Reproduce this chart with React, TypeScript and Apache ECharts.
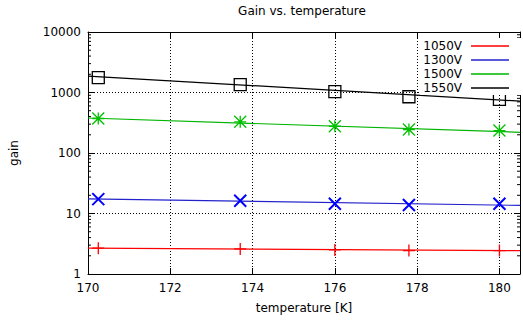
import React, { useEffect, useRef } from "react";
import * as echarts from "echarts";

// Measured points (temperature [K] -> gain)
const temperatures = [170.25, 173.7, 176.0, 177.8, 180.0];
const gain1050 = [2.67, 2.6, 2.5, 2.44, 2.44];
const gain1300 = [17.3, 16.2, 14.5, 13.8, 14.5];
const gain1500 = [372, 328, 277, 244, 235];
const gain1550 = [1760, 1347, 1031, 851, 769];

// Fit lines (endpoints across the plotted range)
const fitTemps = [170, 180.5];
const fit1050 = [2.67, 2.43];
const fit1300 = [17.5, 13.6];
const fit1500 = [379, 220];
const fit1550 = [1871, 720];

const seriesNames = ["1050V", "1300V", "1500V", "1550V"];
const xTicks = [170, 172, 174, 176, 178, 180];
const yTicks = [1, 10, 100, 1000, 10000];

const minorTickValues: number[] = [];
for (const d of [1, 10, 100, 1000]) {
  for (const m of [2, 3, 4, 5, 6, 7, 8, 9]) minorTickValues.push(m * d);
}

const FONT = "DejaVu Sans";

const pointColors = ["#ff0000", "#0000ff", "#00c000", "#000000"];
const lineColors = ["#ff0000", "#2222cc", "#00b400", "#000000"];
const symbols = [
  "path://M0,5L10,5M5,0L5,10",
  "path://M0,0L10,10M10,0L0,10",
  "path://M0,5L10,5M5,0L5,10M0,0L10,10M10,0L0,10",
  "path://M0,0L10,0L10,10L0,10Z",
];
const symbolSizes = [12, 12, 12, 12];
const symbolWidths = [1.3, 2, 1.3, 1.3];

export default function App() {
  const ref = useRef<HTMLDivElement>(null);
  useEffect(() => {
    if (!ref.current) return;
    const chart = echarts.init(ref.current, undefined, { renderer: "svg" });
    const pointSets = [gain1050, gain1300, gain1500, gain1550];
    const fitSets = [fit1050, fit1300, fit1500, fit1550];

    const fitSeries = seriesNames.map((name, i) => ({
      name,
      type: "line",
      data: fitTemps.map((t, j) => [t, fitSets[i][j]]),
      symbol: "none",
      showSymbol: false,
      color: lineColors[i],
      lineStyle: { color: lineColors[i], width: 1.2 },
      z: 3,
    }));
    const pointSeries = seriesNames.map((name, i) => ({
      name: name + " data",
      type: "scatter",
      data: temperatures.map((t, j) => [t, pointSets[i][j]]),
      symbol: symbols[i],
      symbolSize: symbolSizes[i],
      itemStyle: {
        color: "transparent",
        borderColor: pointColors[i],
        borderWidth: symbolWidths[i],
        opacity: 1,
      },
      z: 4,
    }));

    const minorTicks = {
      type: "custom",
      silent: true,
      data: minorTickValues.map((v) => [170, v]),
      renderItem: (params: any, api: any) => {
        const p = api.coord([170, api.value(1)]);
        const cs = params.coordSys;
        return {
          type: "group",
          children: [
            {
              type: "line",
              shape: { x1: cs.x, y1: p[1], x2: cs.x + 3, y2: p[1] },
              style: { stroke: "#000", lineWidth: 1 },
            },
            {
              type: "line",
              shape: { x1: cs.x + cs.width - 3, y1: p[1], x2: cs.x + cs.width, y2: p[1] },
              style: { stroke: "#000", lineWidth: 1 },
            },
          ],
        };
      },
      z: 1,
    };

    const baseX = {
      type: "value",
      min: 170,
      max: 180.5,
      interval: 2,
    };
    const baseY = {
      type: "log",
      logBase: 10,
      min: 1,
      max: 10000,
    };

    chart.setOption({
      animation: false,
      backgroundColor: "#ffffff",
      textStyle: { fontFamily: FONT },
      title: {
        text: "Gain vs. temperature",
        left: 302,
        top: 5,
        padding: 0,
        textAlign: "center",
        textStyle: { fontFamily: FONT, fontSize: 12, fontWeight: "normal", color: "#000" },
      },
      grid: { left: 79, right: 0, top: 32, bottom: 46 },
      legend: {
        data: seriesNames,
        orient: "vertical",
        right: 0,
        top: 38,
        align: "right",
        icon: "rect",
        itemWidth: 38,
        itemHeight: 1.5,
        itemGap: 0,
        padding: [1, 14, 0, 3],
        backgroundColor: "#ffffff",
        textStyle: { fontFamily: FONT, fontSize: 12, color: "#000", lineHeight: 14, padding: [0, 4, 0, 0] },
        z: 10,
      },
      xAxis: [
        {
          ...baseX,
          position: "bottom",
          name: "temperature [K]",
          nameLocation: "middle",
          nameGap: 28,
          nameTextStyle: { fontFamily: FONT, fontSize: 12, color: "#000" },
          axisLine: { show: true, lineStyle: { color: "#000", width: 1 } },
          axisTick: { show: true, inside: true, length: 6, lineStyle: { color: "#000" } },
          axisLabel: {
            fontFamily: FONT,
            fontSize: 12,
            color: "#000",
            margin: 8,
            formatter: (v: number) => (xTicks.includes(v) ? String(v) : ""),
          },
          splitLine: { show: true, lineStyle: { color: "#000", type: [1, 2], width: 1 } },
        },
        {
          ...baseX,
          position: "top",
          axisLine: { show: true, lineStyle: { color: "#000", width: 1 } },
          axisTick: { show: true, inside: true, length: 6, lineStyle: { color: "#000" } },
          axisLabel: { show: false },
          splitLine: { show: false },
        },
      ],
      yAxis: [
        {
          ...baseY,
          position: "left",
          name: "gain",
          nameLocation: "middle",
          nameGap: 68,
          nameTextStyle: { fontFamily: FONT, fontSize: 12, color: "#000" },
          axisLine: { show: true, lineStyle: { color: "#000", width: 1 } },
          axisTick: { show: true, inside: true, length: 6, lineStyle: { color: "#000" } },
          axisLabel: {
            fontFamily: FONT,
            fontSize: 12,
            color: "#000",
            margin: 7,
            formatter: (v: number) => (yTicks.includes(Math.round(v)) ? String(Math.round(v)) : ""),
          },
          splitLine: { show: true, lineStyle: { color: "#000", type: [1, 2], width: 1 } },
        },
        {
          ...baseY,
          position: "right",
          axisLine: { show: true, lineStyle: { color: "#000", width: 1 } },
          axisTick: { show: true, inside: true, length: 6, lineStyle: { color: "#000" } },
          axisLabel: { show: false },
          splitLine: { show: false },
        },
      ],
      series: [minorTicks, ...fitSeries, ...pointSeries],
    });
    return () => chart.dispose();
  }, []);

  return (
    <div
      ref={ref}
      style={{ position: "fixed", left: 0, top: 0, width: 523, height: 320 }}
    />
  );
}
